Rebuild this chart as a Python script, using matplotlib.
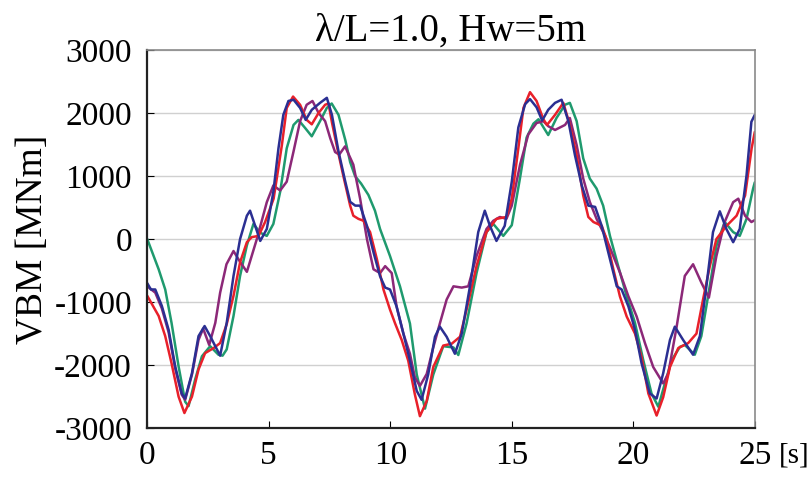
import matplotlib.pyplot as plt

plt.rcParams['font.family'] = ['Liberation Serif', 'DejaVu Serif']
plt.rcParams['axes.unicode_minus'] = False

# time [s] / VBM [MNm] for each case
t_red = [0, 0.47, 0.74, 1.0, 1.29, 1.53, 1.84, 2.11, 2.38, 2.73, 3.0, 3.27, 3.55, 3.82, 4.1, 4.3,
         4.58, 4.85, 5.2, 5.33, 5.54, 5.74, 6.0, 6.29, 6.56, 6.77, 7.05, 7.32, 7.46, 7.6, 7.87, 8.07,
         8.35, 8.48, 8.69, 8.9, 9.17, 9.45, 9.72, 9.99, 10.2, 10.47, 10.74, 11.01, 11.22, 11.5, 11.77,
         12.18, 12.53, 12.87, 13.14, 13.55, 13.96, 14.37, 14.78, 15.0, 15.27, 15.48, 15.75, 16.02,
         16.3, 16.45, 16.78, 17.12, 17.39, 17.67, 17.94, 18.15, 18.36, 18.7, 18.9, 19.18, 19.45,
         19.73, 20.07, 20.34, 20.62, 20.96, 21.23, 21.51, 21.85, 22.26, 22.6, 22.87, 23.15, 23.42,
         23.84, 24.25, 24.6, 24.87, 25.0]
vbm_red = [-900, -1220, -1540, -1970, -2500, -2760, -2500, -2070, -1810, -1730, -1650, -1350, -900,
           -370, -50, 30, 50, 270, 640, 960, 1490, 2080, 2260, 2130, 1890, 1820, 2000, 2130, 2150,
           1850, 1350, 1000, 530, 370, 320, 290, 110, -320, -800, -1120, -1340, -1600, -1930, -2460,
           -2810, -2570, -2030, -1690, -1660, -1550, -1120, -430, 110, 320, 350, 640, 1440, 2080,
           2330, 2190, 1900, 1810, 1970, 2160, 1810, 1330, 690, 350, 270, 210, 0, -480, -910, -1230,
           -1500, -1870, -2450, -2800, -2510, -2030, -1730, -1650, -1500, -960, -430, 0, 210, 370,
           690, 1440, 1700]

t_blue = [0, 0.15, 0.33, 0.6, 0.88, 1.15, 1.42, 1.56, 1.84, 2.11, 2.36, 2.59, 2.8, 3.0, 3.27, 3.55,
          3.82, 4.1, 4.23, 4.44, 4.65, 4.92, 5.19, 5.4, 5.6, 5.81, 6.02, 6.29, 6.52, 6.77, 7.11, 7.39,
          7.6, 7.87, 8.15, 8.35, 8.56, 8.76, 9.04, 9.31, 9.58, 9.79, 9.99, 10.26, 10.54, 10.81, 11.09,
          11.29, 11.56, 11.84, 12.04, 12.32, 12.66, 12.94, 13.28, 13.62, 13.89, 14.1, 14.37, 14.71,
          15.0, 15.27, 15.55, 15.75, 16.02, 16.25, 16.5, 16.78, 17.05, 17.33, 17.6, 17.88, 18.15,
          18.43, 18.7, 18.97, 19.32, 19.52, 19.8, 20.07, 20.34, 20.68, 20.96, 21.23, 21.51, 21.71,
          22.05, 22.46, 22.74, 23.01, 23.28, 23.56, 23.83, 24.11, 24.38, 24.66, 24.86, 25.0]
vbm_blue = [-700, -800, -800, -1060, -1440, -2020, -2450, -2530, -2130, -1540, -1380, -1540, -1700,
            -1850, -1330, -585, 0, 370, 450, 210, -30, 160, 750, 1440, 1970, 2190, 2210, 2080, 1890,
            2050, 2160, 2240, 1970, 1390, 910, 590, 530, 530, 210, -210, -590, -770, -800, -1070,
            -1500, -1930, -2410, -2550, -2150, -1550, -1390, -1550, -1820, -1500, -750, 110, 450, 210,
            -30, 210, 910, 1770, 2140, 2220, 2090, 1880, 2050, 2160, 2210, 1870, 1330, 850, 530, 510,
            210, -210, -750, -800, -1070, -1440, -1970, -2450, -2530, -2130, -1600, -1390, -1600,
            -1835, -1540, -745, 110, 440, 160, -50, 160, 1010, 1860, 1970]

t_green = [0, 0.47, 0.74, 1.0, 1.29, 1.56, 1.7, 1.97, 2.25, 2.59, 2.93, 3.1, 3.27, 3.55, 3.82, 4.1,
           4.37, 4.65, 4.92, 5.19, 5.47, 5.74, 6.02, 6.22, 6.5, 6.77, 7.11, 7.39, 7.59, 7.87, 8.15,
           8.35, 8.55, 8.8, 9.1, 9.37, 9.58, 9.99, 10.4, 10.81, 11.09, 11.43, 11.77, 12.18, 12.6,
           12.8, 13.14, 13.55, 13.96, 14.24, 14.65, 15.0, 15.34, 15.61, 15.89, 16.1, 16.5, 16.84,
           17.19, 17.39, 17.67, 17.94, 18.21, 18.49, 18.76, 19.04, 19.38, 19.73, 20.07, 20.41, 20.75,
           21.03, 21.3, 21.58, 21.92, 22.12, 22.53, 22.8, 23.08, 23.42, 23.76, 24.11, 24.38, 24.66,
           24.93, 25.0]
vbm_green = [0, -480, -800, -1330, -2020, -2580, -2650, -2230, -1860, -1700, -1835, -1850, -1750,
             -1220, -585, -100, 240, 100, 50, 240, 750, 1440, 1810, 1890, 1760, 1630, 1870, 2080,
             2150, 1970, 1570, 1220, 1000, 880, 700, 450, 160, -270, -750, -1340, -2150, -2690,
             -2150, -1700, -1720, -1840, -1340, -540, 110, 240, 50, 220, 970, 1610, 1830, 1900, 1650,
             1920, 2130, 2160, 1870, 1280, 960, 800, 530, 50, -430, -910, -1330, -1920, -2450, -2660,
             -2290, -1920, -1710, -1680, -1835, -1540, -900, -110, 270, 110, 50, 320, 800, 900]

t_purple = [0, 0.33, 0.6, 0.88, 1.15, 1.42, 1.56, 1.84, 2.11, 2.3, 2.55, 2.8, 3.0, 3.26, 3.55, 3.8,
            4.1, 4.51, 4.92, 5.19, 5.47, 5.74, 6.02, 6.29, 6.56, 6.8, 7.05, 7.32, 7.53, 7.73, 7.9,
            8.14, 8.48, 8.76, 9.04, 9.31, 9.58, 9.79, 10.06, 10.26, 10.54, 10.81, 11.01, 11.22, 11.5,
            11.77, 12.04, 12.32, 12.6, 12.94, 13.21, 13.55, 13.96, 14.24, 14.51, 14.78, 15.0, 15.34,
            15.68, 16.02, 16.3, 16.5, 16.78, 17.19, 17.39, 17.67, 17.94, 18.21, 18.49, 18.84, 19.18,
            19.45, 19.8, 20.14, 20.48, 20.82, 21.23, 21.44, 21.78, 22.12, 22.46, 22.8, 23.11, 23.42,
            23.76, 24.11, 24.32, 24.6, 24.86, 25.0]
vbm_purple = [-750, -850, -1100, -1480, -2050, -2470, -2550, -2150, -1600, -1420, -1680, -1330, -850,
              -400, -190, -350, -520, 0, 585, 850, 770, 910, 1390, 1870, 2130, 2190, 2000, 1870, 1600,
              1380, 1340, 1470, 1180, 640, 0, -480, -540, -430, -540, -1070, -1500, -1820, -2190,
              -2330, -2140, -1720, -1340, -960, -750, -770, -750, -270, 160, 290, 350, 320, 530, 1180,
              1660, 1840, 1870, 1790, 1730, 1810, 1920, 1490, 960, 590, 320, 50, -270, -530, -910,
              -1230, -1650, -2030, -2290, -2130, -1400, -585, -400, -690, -930, -270, 270, 585, 640,
              370, 270, 300]

fig = plt.figure(figsize=(8.09, 4.80), dpi=100)
ax = fig.add_axes([0.182, 0.108, 0.751, 0.788])

line_kw = dict(lw=1.8, solid_joinstyle='round', solid_capstyle='round')
ax.plot(t_green, vbm_green, color='#1f9a6e', **line_kw)
ax.plot(t_purple, vbm_purple, color='#8c2878', **line_kw)
ax.plot(t_red, vbm_red, color='#e8202a', **line_kw)
ax.plot(t_blue, vbm_blue, color='#2b2f92', **line_kw)

ax.set_xlim(0, 25)
ax.set_ylim(-3000, 3000)
ax.set_xticks([0, 5, 10, 15, 20, 25])
ax.set_yticks(range(-3000, 3001, 1000))
ax.yaxis.grid(True, color='#d0d0d0', lw=1)
ax.set_axisbelow(True)
ax.tick_params(direction='in', length=5, labelsize=24)
ax.tick_params(axis='y', pad=11)
ax.tick_params(axis='x', pad=9)

for side in ['left', 'bottom']:
    ax.spines[side].set_color('#222222')
    ax.spines[side].set_linewidth(1.6)
for side in ['top', 'right']:
    ax.spines[side].set_color('#8a8a8a')
    ax.spines[side].set_linewidth(1.2)

ax.set_ylabel('VBM [MNm]', fontsize=27, labelpad=3)
ax.set_title('λ/L=1.0, Hw=5m', fontsize=28, pad=5)
ax.text(1.039, -0.038, '[s]', transform=ax.transAxes, fontsize=21, va='top', ha='left')

fig.savefig('out.png', dpi=100)
